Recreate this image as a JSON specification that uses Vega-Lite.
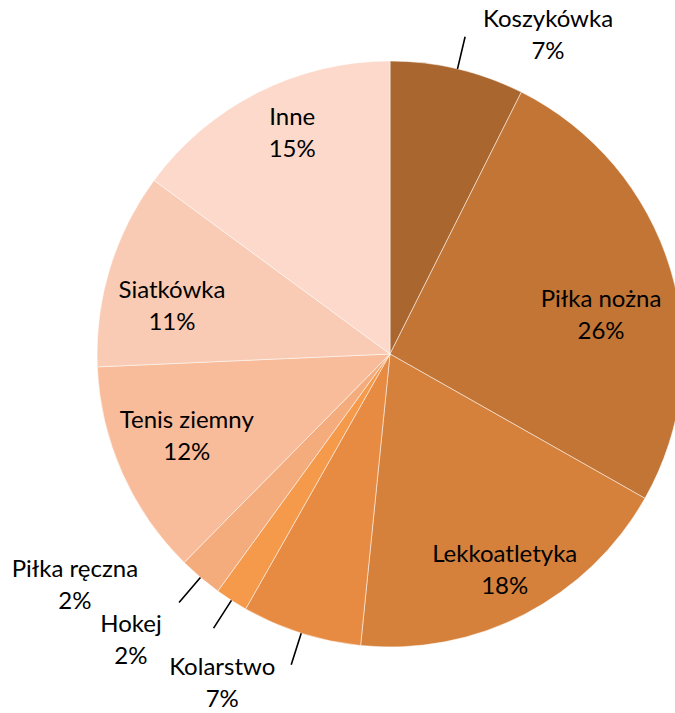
{
  "$schema": "https://vega.github.io/schema/vega-lite/v6.json",
  "width": 570,
  "height": 708,
  "autosize": "none",
  "padding": {"left": 105, "top": 0, "right": 0, "bottom": 5},
  "background": "white",
  "config": {
    "view": {"stroke": null},
    "text": {"font": "Lato", "fontSize": 24, "lineBreak": "\n", "lineHeight": 32, "color": "#000000", "align": "center", "baseline": "middle"}
  },
  "data": {
    "values": [
      {"sport": "Koszykówka", "value": 7.4},
      {"sport": "Piłka nożna", "value": 25.8},
      {"sport": "Lekkoatletyka", "value": 18.4},
      {"sport": "Kolarstwo", "value": 6.6},
      {"sport": "Hokej", "value": 1.8},
      {"sport": "Piłka ręczna", "value": 2.4},
      {"sport": "Tenis ziemny", "value": 11.9},
      {"sport": "Siatkówka", "value": 10.8},
      {"sport": "Inne", "value": 14.9}
    ]
  },
  "transform": [
    {"window": [{"op": "row_number", "as": "idx"}]},
    {"stack": "value", "groupby": [], "sort": [{"field": "idx", "order": "ascending"}], "as": ["v0", "v1"]},
    {"calculate": "(datum.v0 + datum.v1) / 2", "as": "mid"},
    {"calculate": "datum.sport + '\\n' + format(datum.value / 100, '.0%')", "as": "label"}
  ],
  "layer": [
    {
      "mark": {"type": "arc", "radius": 293, "stroke": "#ffffff", "strokeWidth": 1, "strokeOpacity": 0.5},
      "encoding": {
        "theta": {"field": "v0", "type": "quantitative", "scale": {"domain": [0, 100]}},
        "theta2": {"field": "v1"},
        "color": {
          "field": "sport",
          "type": "nominal",
          "scale": {
            "domain": ["Koszykówka", "Piłka nożna", "Lekkoatletyka", "Kolarstwo", "Hokej", "Piłka ręczna", "Tenis ziemny", "Siatkówka", "Inne"],
            "range": ["#A9672F", "#C27535", "#D5813C", "#E78B43", "#F59A4B", "#F5AC7C", "#F8BC9B", "#F9CBB4", "#FCD9CA"]
          },
          "legend": null
        }
      }
    },
    {
      "transform": [{"filter": "datum.value < 8"}],
      "mark": {"type": "arc", "radius": 326, "radius2": 293, "filled": false, "stroke": "#000000", "strokeWidth": 1.6},
      "encoding": {
        "theta": {"field": "mid", "type": "quantitative", "scale": {"domain": [0, 100]}},
        "theta2": {"field": "mid"}
      }
    },
    {
      "transform": [{"filter": "datum.sport == 'Inne'"}],
      "mark": {"type": "text", "radius": 230, "dx": 6, "dy": -31},
      "encoding": {"theta": {"field": "mid", "type": "quantitative", "scale": {"domain": [0, 100]}}, "text": {"field": "label"}}
    },
    {
      "transform": [{"filter": "datum.sport == 'Piłka nożna'"}],
      "mark": {"type": "text", "radius": 230, "dx": -9, "dy": 13},
      "encoding": {"theta": {"field": "mid", "type": "quantitative", "scale": {"domain": [0, 100]}}, "text": {"field": "label"}}
    },
    {
      "transform": [{"filter": "datum.sport == 'Lekkoatletyka'"}],
      "mark": {"type": "text", "radius": 230, "dx": 9, "dy": -3},
      "encoding": {"theta": {"field": "mid", "type": "quantitative", "scale": {"domain": [0, 100]}}, "text": {"field": "label"}}
    },
    {
      "transform": [{"filter": "datum.sport == 'Tenis ziemny'"}],
      "mark": {"type": "text", "radius": 230, "dx": 7, "dy": -26},
      "encoding": {"theta": {"field": "mid", "type": "quantitative", "scale": {"domain": [0, 100]}}, "text": {"field": "label"}}
    },
    {
      "transform": [{"filter": "datum.sport == 'Siatkówka'"}],
      "mark": {"type": "text", "radius": 230, "dx": 2, "dy": 4},
      "encoding": {"theta": {"field": "mid", "type": "quantitative", "scale": {"domain": [0, 100]}}, "text": {"field": "label"}}
    },
    {
      "transform": [{"filter": "datum.sport == 'Koszykówka'"}],
      "mark": {"type": "text", "radius": 293, "dx": 90.5, "dy": -49},
      "encoding": {"theta": {"field": "mid", "type": "quantitative", "scale": {"domain": [0, 100]}}, "text": {"field": "label"}}
    },
    {
      "transform": [{"filter": "datum.sport == 'Kolarstwo'"}],
      "mark": {"type": "text", "radius": 293, "dx": -79, "dy": 35},
      "encoding": {"theta": {"field": "mid", "type": "quantitative", "scale": {"domain": [0, 100]}}, "text": {"field": "label"}}
    },
    {
      "transform": [{"filter": "datum.sport == 'Hokej'"}],
      "mark": {"type": "text", "radius": 293, "dx": -100.5, "dy": 25},
      "encoding": {"theta": {"field": "mid", "type": "quantitative", "scale": {"domain": [0, 100]}}, "text": {"field": "label"}}
    },
    {
      "transform": [{"filter": "datum.sport == 'Piłka ręczna'"}],
      "mark": {"type": "text", "radius": 293, "dx": -125.5, "dy": -7},
      "encoding": {"theta": {"field": "mid", "type": "quantitative", "scale": {"domain": [0, 100]}}, "text": {"field": "label"}}
    }
  ]
}
